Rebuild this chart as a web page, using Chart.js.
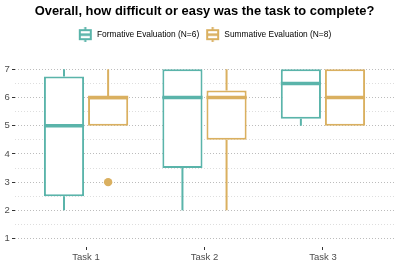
<!DOCTYPE html>
<html>
<head>
<meta charset="utf-8">
<script src="https://cdn.jsdelivr.net/npm/chart.js@4/dist/chart.umd.min.js"></script>
<style>
  body { margin: 0; background: #fff; }
  #wrap { width: 399px; height: 266px; }
</style>
</head>
<body>
<div id="wrap"><canvas id="box"></canvas></div>
<script>
// tasks and tick labels
const tasks = ['Task 1', 'Task 2', 'Task 3'];
const taskPos = [1, 2, 3];
const yTickValues = [1, 1.5, 2, 2.5, 3, 3.5, 4, 4.5, 5, 5.5, 6, 6.5, 7];

// Formative Evaluation (N=6)
const formMin = [2, 2, 5];
const formQ1 = [2.5, 3.5, 5.25];
const formMed = [5, 6, 6.5];
const formQ3 = [6.75, 7, 7];
const formMax = [7, 7, 7];
const formOut = [[], [], []];

// Summative Evaluation (N=8)
const sumMin = [5, 2, 5];
const sumQ1 = [5, 4.5, 5];
const sumMed = [6, 6, 6];
const sumQ3 = [6, 6.25, 7];
const sumMax = [7, 7, 7];
const sumOut = [[3], [], []];

const teal = '#5AB4AA';
const gold = '#DAB060';

const series = [
    { label: 'Formative Evaluation (N=6)', color: teal, min: formMin, q1: formQ1, med: formMed, q3: formQ3, max: formMax, out: formOut },
    { label: 'Summative Evaluation (N=8)', color: gold, min: sumMin, q1: sumQ1, med: sumMed, q3: sumQ3, max: sumMax, out: sumOut }
];

// little boxplot glyph for the legend
function legendIcon(color) {
    const c = document.createElement('canvas');
    c.width = 15; c.height = 15;
    const g = c.getContext('2d');
    g.strokeStyle = color;
    g.lineWidth = 2;
    g.beginPath();
    g.moveTo(7.5, 0); g.lineTo(7.5, 3);
    g.moveTo(7.5, 12); g.lineTo(7.5, 15);
    g.stroke();
    g.strokeRect(2, 3, 11, 9);
    g.lineWidth = 2.5;
    g.beginPath();
    g.moveTo(1, 7.5); g.lineTo(14, 7.5);
    g.stroke();
    return c;
}

// whiskers, medians and outliers drawn on top of the floating bars
const boxExtras = {
    id: 'boxExtras',
    afterDatasetsDraw(chart) {
        const ctx = chart.ctx;
        const y = chart.scales.y;
        series.forEach((s, di) => {
            const meta = chart.getDatasetMeta(di);
            meta.data.forEach((bar, j) => {
                const { x, width } = bar.getProps(['x', 'width'], true);
                ctx.save();
                ctx.strokeStyle = s.color;
                ctx.lineWidth = 2;
                ctx.beginPath();
                ctx.moveTo(x, y.getPixelForValue(s.q3[j]));
                ctx.lineTo(x, y.getPixelForValue(s.max[j]));
                ctx.moveTo(x, y.getPixelForValue(s.q1[j]));
                ctx.lineTo(x, y.getPixelForValue(s.min[j]));
                ctx.stroke();
                ctx.lineWidth = 3.5;
                ctx.beginPath();
                const ym = y.getPixelForValue(s.med[j]);
                ctx.moveTo(x - width / 2, ym);
                ctx.lineTo(x + width / 2, ym);
                ctx.stroke();
                ctx.fillStyle = s.color;
                s.out[j].forEach(v => {
                    ctx.beginPath();
                    ctx.arc(x, y.getPixelForValue(v), 4.2, 0, Math.PI * 2);
                    ctx.fill();
                });
                ctx.restore();
            });
        });
    }
};

Chart.defaults.font.family = "'Liberation Sans', Arial, sans-serif";

new Chart(document.getElementById('box'), {
    type: 'bar',
    data: {
        datasets: series.map(s => ({
            label: s.label,
            data: taskPos.map((p, j) => ({ x: p, y: [s.q1[j], s.q3[j]] })),
            backgroundColor: '#ffffff',
            borderColor: s.color,
            borderWidth: 2,
            borderSkipped: false,
            categoryPercentage: 0.745,
            barPercentage: 0.91
        }))
    },
    options: {
        responsive: true,
        maintainAspectRatio: false,
        animation: false,
        layout: { padding: { left: 15, right: 5, top: 0, bottom: 2 } },
        plugins: {
            tooltip: { enabled: false },
            title: {
                display: true,
                text: 'Overall, how difficult or easy was the task to complete?',
                color: '#000',
                font: { size: 12.9, weight: 'bold', lineHeight: 1.2 },
                padding: { top: 4, bottom: 5 }
            },
            subtitle: {
                display: true,
                text: ' ',
                weight: 500,
                font: { size: 1, lineHeight: 1 },
                padding: { top: 11, bottom: 0 }
            },
            legend: {
                display: true,
                labels: {
                    usePointStyle: true,
                    pointStyleWidth: 15,
                    padding: 6,
                    color: '#333',
                    font: { size: 8.4 },
                    generateLabels: () => series.map((s, i) => ({
                        text: s.label,
                        pointStyle: legendIcon(s.color),
                        fillStyle: s.color,
                        strokeStyle: s.color,
                        lineWidth: 0,
                        hidden: false,
                        datasetIndex: i
                    }))
                }
            }
        },
        scales: {
            x: {
                type: 'linear',
                min: 0.4,
                max: 3.6,
                offset: false,
                afterBuildTicks: scale => { scale.ticks = taskPos.map(v => ({ value: v })); },
                afterFit: scale => { scale.height = 17; },
                ticks: {
                    color: '#4d4d4d',
                    font: { size: 9.5 },
                    padding: 2,
                    autoSkip: false,
                    maxRotation: 0,
                    callback: v => tasks[taskPos.indexOf(v)]
                },
                grid: {
                    offset: false,
                    drawOnChartArea: false,
                    tickLength: 3,
                    tickColor: '#333',
                    tickBorderDash: [4, 0]
                },
                border: { display: false }
            },
            y: {
                min: 0.7,
                max: 7.3,
                afterBuildTicks: scale => { scale.ticks = yTickValues.map(v => ({ value: v })); },
                afterFit: scale => { scale.width = 0; },
                ticks: {
                    color: '#4d4d4d',
                    font: { size: 9.5 },
                    mirror: true,
                    padding: -10.5,
                    autoSkip: false,
                    callback: v => (v % 1 === 0 ? String(v) : '')
                },
                grid: {
                    color: c => (c.tick && c.tick.value % 1 === 0 ? '#bcbcbc' : '#dedede'),
                    lineWidth: 1,
                    tickLength: 3,
                    tickColor: c => (c.tick && c.tick.value % 1 === 0 ? '#333' : 'rgba(0,0,0,0)'),
                    tickBorderDash: [4, 0]
                },
                border: { display: false, dash: [1, 2] }
            }
        }
    },
    plugins: [boxExtras]
});
</script>
</body>
</html>
